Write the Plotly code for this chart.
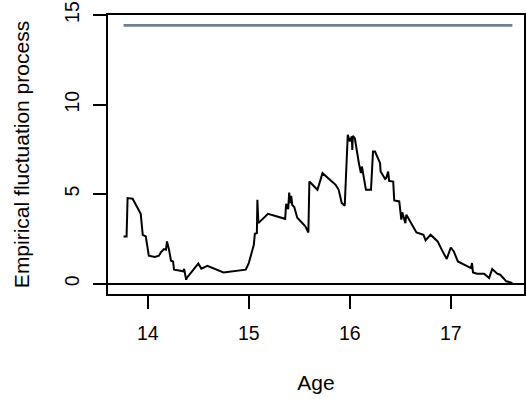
import plotly.graph_objects as go

# Empirical fluctuation process over Age
age = [13.76, 13.79, 13.80, 13.85, 13.93, 13.95, 13.98, 14.01, 14.07, 14.11,
       14.13, 14.16, 14.18, 14.19, 14.21, 14.23, 14.25, 14.26, 14.31, 14.35,
       14.36, 14.38, 14.39, 14.44, 14.50, 14.53, 14.59, 14.75, 14.97, 15.00,
       15.05, 15.06, 15.08, 15.085, 15.095, 15.19, 15.36, 15.37, 15.39, 15.40,
       15.41, 15.42, 15.43, 15.45, 15.48, 15.56, 15.59, 15.60, 15.68, 15.73,
       15.86, 15.89, 15.92, 15.95, 15.97, 15.98, 16.00, 16.02, 16.025, 16.03,
       16.05, 16.07, 16.09, 16.11, 16.12, 16.16, 16.21, 16.23, 16.25, 16.30,
       16.305, 16.35, 16.36, 16.38, 16.39, 16.43, 16.44, 16.49, 16.51, 16.52,
       16.55, 16.56, 16.61, 16.66, 16.73, 16.75, 16.80, 16.87, 16.91, 16.96,
       17.00, 17.03, 17.07, 17.15, 17.20, 17.21, 17.22, 17.26, 17.33, 17.38,
       17.41, 17.46, 17.49, 17.55, 17.59, 17.61]
efp = [2.64, 2.64, 4.78, 4.74, 3.90, 2.73, 2.64, 1.56, 1.49, 1.56,
       1.75, 1.93, 1.90, 2.36, 1.90, 1.28, 1.24, 0.78, 0.74, 0.69,
       0.82, 0.22, 0.35, 0.69, 1.12, 0.84, 1.00, 0.63, 0.78, 1.15,
       2.17, 2.79, 2.83, 4.68, 3.38, 3.90, 3.62, 4.46, 4.16, 5.09,
       4.50, 4.90, 4.40, 4.28, 3.68, 3.20, 2.86, 5.70, 5.24, 6.17,
       5.52, 5.24, 4.50, 4.35, 7.85, 8.31, 7.94, 8.22, 7.47, 8.25,
       8.12, 7.29, 6.73, 6.17, 6.54, 5.24, 5.24, 7.38, 7.38, 6.73,
       6.26, 5.84, 5.89, 6.26, 5.74, 5.70, 4.65, 4.59, 3.57, 3.98,
       3.38, 3.85, 3.38, 2.86, 2.73, 2.42, 2.73, 2.36, 1.90, 1.38,
       2.02, 1.80, 1.24, 1.00, 0.87, 1.15, 0.63, 0.56, 0.56, 0.32,
       0.82, 0.56, 0.50, 0.13, 0.07, 0.04]
boundary_value = 14.42
x_ticks = [14, 15, 16, 17]
y_ticks = [0, 5, 10, 15]

fig = go.Figure()
fig.add_trace(go.Scatter(
    x=[age[0], age[-1]], y=[boundary_value, boundary_value], mode="lines",
    line=dict(color="#708090", width=2.6), showlegend=False, hoverinfo="skip"))
fig.add_trace(go.Scatter(
    x=age, y=efp, mode="lines",
    line=dict(color="black", width=2), showlegend=False))

family = "Liberation Sans, Arial, sans-serif"
tick_font = dict(family=family, size=19.5, color="black")
title_font = dict(family=family, size=21, color="black")
fig.update_layout(
    width=526, height=399,
    margin=dict(l=108, r=2, t=15, b=105, autoexpand=False),
    paper_bgcolor="white", plot_bgcolor="white",
    font=tick_font,
    xaxis=dict(
        range=[13.606, 17.725], tickvals=x_ticks, ticktext=[str(v) for v in x_ticks],
        ticks="outside", ticklen=13, tickwidth=2, tickcolor="black",
        showline=True, mirror=True, linecolor="black", linewidth=2,
        showgrid=False, zeroline=False, ticklabelstandoff=8,
        tickfont=tick_font,
        title=dict(text="Age", standoff=32, font=title_font)),
    yaxis=dict(
        range=[-0.577, 15.0], tickvals=y_ticks, ticktext=[str(v) for v in y_ticks],
        ticks="outside", ticklen=13, tickwidth=2, tickcolor="black",
        tickangle=-90, tickfont=tick_font,
        showline=True, mirror=True, linecolor="black", linewidth=2,
        showgrid=False, zeroline=True, zerolinecolor="black", zerolinewidth=2,
        ticklabelstandoff=6,
        title=dict(text="Empirical fluctuation process", standoff=26, font=title_font)),
)
fig.write_html("out.html")
